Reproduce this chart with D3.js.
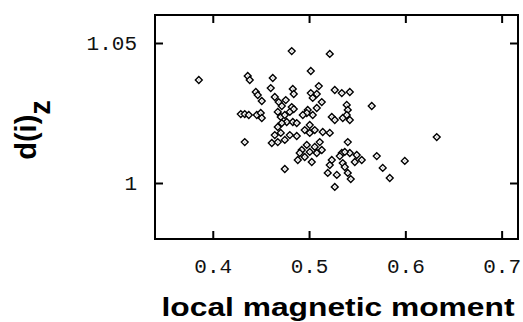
<!DOCTYPE html>
<html>
<head>
<meta charset="utf-8">
<script src="https://cdn.jsdelivr.net/npm/d3@7"></script>
<style>
  body { margin: 0; background: #fff; }
  svg { display: block; }
  .tick text { font-family: "Liberation Mono", "Courier New", monospace; font-size: 21px; fill: #111; }
  .title { font-family: "Liberation Sans", Arial, sans-serif; font-weight: bold; fill: #000; }
</style>
</head>
<body>
<svg id="chart" width="523" height="322"></svg>
<script>
// local magnetic moment vs d(i)_z
var moment = [0.3855,0.4820,0.5215,0.5018,0.4363,0.4384,0.4623,0.5101,0.4447,0.4467,
              0.4509,0.4602,0.4644,0.4685,0.4758,0.4831,0.4841,0.4820,0.4717,0.4675,
              0.4706,0.4748,0.4800,0.4841,0.4768,0.4831,0.4291,0.4332,0.4374,0.4457,
              0.4498,0.4509,0.5018,0.5038,0.5080,0.4986,0.5080,0.5038,0.4976,0.5132,
              0.5267,0.5340,0.5423,0.5391,0.5402,0.5651,0.5236,0.5267,0.5350,0.5423,
              0.5391,0.4332,0.4748,0.4717,0.4872,0.4675,0.4955,0.5007,0.5059,0.4644,
              0.4613,0.4675,0.4748,0.4800,0.4872,0.4924,0.4976,0.5007,0.5059,0.4883,
              0.4955,0.5028,0.4903,0.5142,0.5215,0.5111,0.5132,0.5080,0.5402,0.5340,
              0.5319,0.5423,0.5495,0.5547,0.5475,0.5236,0.5215,0.5350,0.5371,0.5194,
              0.5288,0.5402,0.5433,0.5267,0.5703,0.5765,0.5838,0.5994,0.6326,0.4935,
              0.4706,0.5007,0.5371];
var dz = [1.0368,1.0471,1.0461,1.0400,1.0382,1.0368,1.0375,1.0346,1.0325,1.0314,
          1.0293,1.0339,1.0307,1.0289,1.0296,1.0336,1.0318,1.0271,1.0275,1.0254,
          1.0236,1.0243,1.0254,1.0264,1.0218,1.0218,1.0246,1.0246,1.0243,1.0243,
          1.0250,1.0232,1.0321,1.0304,1.0318,1.0261,1.0268,1.0243,1.0250,1.0289,
          1.0332,1.0321,1.0325,1.0279,1.0261,1.0275,1.0236,1.0225,1.0232,1.0225,
          1.0243,1.0146,1.0050,1.0214,1.0214,1.0200,1.0189,1.0207,1.0189,1.0171,
          1.0143,1.0146,1.0154,1.0171,1.0168,1.0118,1.0136,1.0111,1.0129,1.0082,
          1.0093,1.0075,1.0107,1.0182,1.0179,1.0146,1.0118,1.0107,1.0146,1.0107,
          1.0096,1.0107,1.0100,1.0082,1.0075,1.0082,1.0064,1.0071,1.0057,1.0036,
          1.0029,1.0036,1.0014,0.9986,1.0096,1.0054,1.0018,1.0079,1.0164,1.0243,
          1.0179,1.0179,1.0111];
var xTicks = [0.4, 0.5, 0.6, 0.7];
var yTicks = [1, 1.05];

var svg = d3.select("#chart");
var plotL = 155, plotR = 518, plotT = 15, plotB = 239;

var x = d3.scaleLinear().domain([0.34, 0.717]).range([plotL, plotR]);
var y = d3.scaleLinear().domain([0.98, 1.06]).range([plotB, plotT]);

var fmtX = function(d){ return d3.format(".1f")(d); };
var fmtY = function(d){ return d === 1 ? "1" : d3.format(".2f")(d); };

// axes with inward ticks
var gx = svg.append("g").attr("transform", "translate(0," + plotB + ")")
  .call(d3.axisBottom(x).tickValues(xTicks).tickSize(-8).tickPadding(19).tickFormat(fmtX));
var gxt = svg.append("g").attr("transform", "translate(0," + plotT + ")")
  .call(d3.axisTop(x).tickValues(xTicks).tickSize(-8).tickFormat(""));
var gy = svg.append("g").attr("transform", "translate(" + plotL + ",0)")
  .call(d3.axisLeft(y).tickValues(yTicks).tickSize(-8).tickPadding(18).tickFormat(fmtY));
var gyr = svg.append("g").attr("transform", "translate(" + plotR + ",0)")
  .call(d3.axisRight(y).tickValues(yTicks).tickSize(-8).tickFormat(""));

[gx, gxt, gy, gyr].forEach(function(g){
  g.select(".domain").remove();
  g.selectAll(".tick line").attr("stroke", "#000").attr("stroke-width", 2);
});

// frame
svg.append("rect")
  .attr("x", plotL).attr("y", plotT)
  .attr("width", plotR - plotL).attr("height", plotB - plotT)
  .attr("fill", "none").attr("stroke", "#000").attr("stroke-width", 2);

// diamonds
var pts = moment.map(function(m, i){ return [m, dz[i]]; });
var diamond = d3.symbol().type(d3.symbolDiamond2).size(30);
var g = svg.append("g");
g.selectAll("path.pt").data(pts).enter().append("path")
  .attr("class", "pt")
  .attr("d", diamond)
  .attr("transform", function(d){ return "translate(" + x(d[0]) + "," + y(d[1]) + ")"; })
  .attr("fill", "#fff").attr("stroke", "#000").attr("stroke-width", 1.4);
g.selectAll("rect.dot").data(pts).enter().append("rect")
  .attr("class", "dot")
  .attr("x", function(d){ return x(d[0]) - 0.5; })
  .attr("y", function(d){ return y(d[1]) - 0.5; })
  .attr("width", 1).attr("height", 1).attr("fill", "#777");

// axis titles
svg.append("text").attr("class", "title")
  .attr("x", 338).attr("y", 316).attr("text-anchor", "middle")
  .attr("textLength", 353).attr("lengthAdjust", "spacingAndGlyphs")
  .style("font-size", "25px")
  .text("local magnetic moment");

var yt = svg.append("text").attr("class", "title")
  .attr("transform", "translate(36,130) rotate(-90)")
  .attr("text-anchor", "middle")
  .style("font-size", "29px");
yt.append("tspan").text("d(i)");
yt.append("tspan").attr("dy", 14).text("z");
</script>
</body>
</html>
